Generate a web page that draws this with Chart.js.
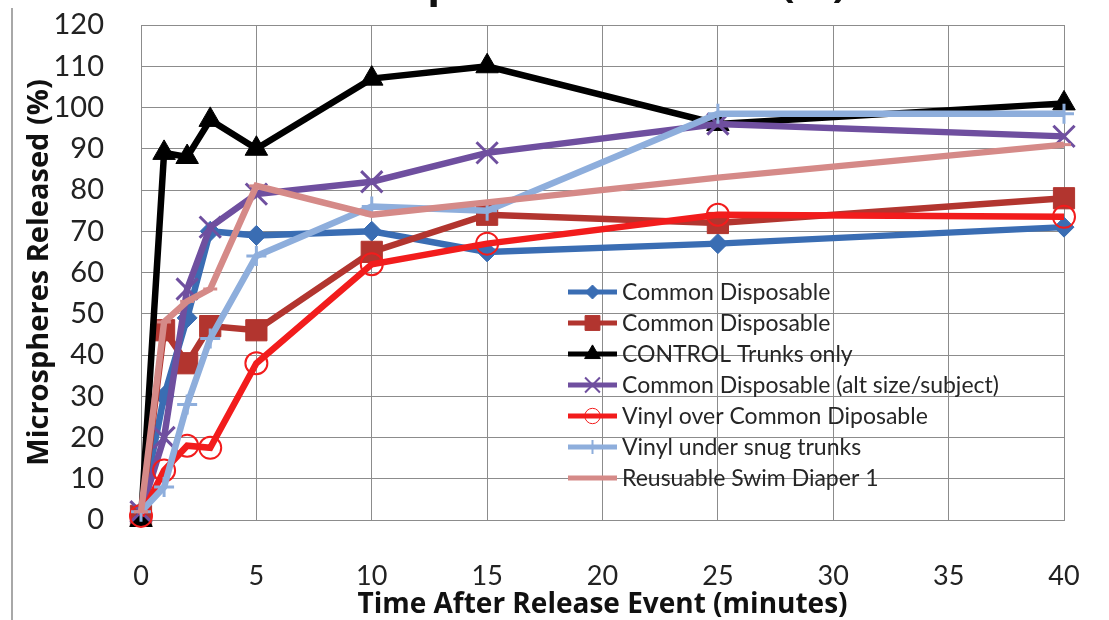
<!DOCTYPE html>
<html>
<head>
<meta charset="utf-8">
<script src="https://cdn.jsdelivr.net/npm/chart.js@4.4.1/dist/chart.umd.min.js"></script>
<style>
  html, body { margin: 0; padding: 0; background: #fff; overflow: hidden; }
  #wrap { position: relative; width: 1109px; height: 620px; overflow: hidden; }
  #chart { position: absolute; left: 0; top: 0; }
  #edge { position: absolute; left: 11px; top: 8px; bottom: 0; border-left: 2px solid #a8a8a8; }
</style>
</head>
<body>
<div id="wrap">
  <canvas id="chart" width="1109" height="620"></canvas>
  <div id="edge"></div>
</div>
<script>
// time points (minutes)
const times = [0, 1, 2, 3, 5, 10, 15, 25, 40];

const seriesNames = [
  "Common Disposable",
  "Common Disposable",
  "CONTROL Trunks only",
  "Common Disposable (alt size/subject)",
  "Vinyl over Common Diposable",
  "Vinyl under snug trunks",
  "Reusuable Swim Diaper 1"
];

// % microspheres released
const commonA    = [2, 30, 49, 70, 69, 70, 65, 67, 71];
const commonB    = [1, 46, 38, 47, 46, 65, 74, 72, 78];
const control    = [0, 89, 88, 97, 90, 107, 110, 96, 101];
const altSize    = [2, 20, 56, 71, 79, 82, 89, 96, 93];
const vinylOver  = [1, 12, 18, 17.5, 38, 62, 67, 74, 73.5];
const vinylUnder = [2, 8, 28, 44, 64, 76, 75, 98.5, 98.5];
const reusable   = [2, 48, 53, 56, 81, 74, 77, 83, 91];

const xTicks = [0, 5, 10, 15, 20, 25, 30, 35, 40];
const yTicks = [0, 10, 20, 30, 40, 50, 60, 70, 80, 90, 100, 110, 120];

const chartTitle = "Microspheres Released (%)";

const colors = ["#3a6db3", "#b2352f", "#000000", "#6f4f9f", "#f21c1c", "#8eaedc", "#d58a88"];
const styles = [
  { pointStyle: "rectRot", radius: 10, bw: 1, fill: true },
  { pointStyle: "rect", radius: 15, bw: 1, fill: true },
  { pointStyle: "triangle", radius: 13, bw: 1, fill: true },
  { pointStyle: "crossRot", radius: 15, bw: 3, fill: false },
  { pointStyle: "circle", radius: 11, bw: 2, fill: false },
  { pointStyle: "cross", radius: 10, bw: 3, fill: false },
  { pointStyle: "line", radius: 7, bw: 3, fill: false }
];

const allValues = [commonA, commonB, control, altSize, vinylOver, vinylUnder, reusable];

const datasets = allValues.map((vals, i) => ({
  label: seriesNames[i],
  data: vals.map((v, j) => ({ x: times[j], y: v })),
  borderColor: colors[i],
  backgroundColor: colors[i],
  borderWidth: 6.5,
  tension: 0,
  pointStyle: styles[i].pointStyle,
  pointRadius: styles[i].radius,
  pointBorderWidth: styles[i].bw,
  pointBackgroundColor: styles[i].fill ? colors[i] : "rgba(0,0,0,0)",
  pointBorderColor: colors[i],
  order: allValues.length - i,
  clip: false
}));

const FONT = "Lato, 'Open Sans', sans-serif";
const BOLD_FONT = "'Open Sans', Lato, sans-serif";

// the chart title sits mostly above the picture's top edge, only descenders show
const cutTitle = {
  id: "cutTitle",
  afterDraw(chart) {
    const ctx = chart.ctx;
    ctx.save();
    ctx.fillStyle = "#111";
    ctx.font = "bold 42px " + BOLD_FONT;
    ctx.textAlign = "center";
    ctx.textBaseline = "alphabetic";
    ctx.fillText(chartTitle, 567, -3);
    ctx.restore();
  }
};

// legend drawn inside the plot, like the original
const legendInPlot = {
  id: "legendInPlot",
  afterDraw(chart) {
    const ctx = chart.ctx;
    const x0 = 568, x1 = 617, tx = 622;
    const y0 = 292, dy = 31;
    ctx.save();
    chart.data.datasets.forEach((ds, i) => {
      const y = y0 + i * dy;
      ctx.strokeStyle = ds.borderColor;
      ctx.lineWidth = 5;
      ctx.beginPath();
      ctx.moveTo(x0, y);
      ctx.lineTo(x1, y);
      ctx.stroke();
      ctx.fillStyle = ds.pointBackgroundColor;
      ctx.strokeStyle = ds.pointBorderColor;
      ctx.lineWidth = Math.max(1, ds.pointBorderWidth - 1);
      Chart.helpers.drawPoint(ctx, {
        pointStyle: ds.pointStyle,
        radius: ds.pointRadius * 0.7,
        rotation: 0,
        borderWidth: ds.pointBorderWidth
      }, (x0 + x1) / 2, y);
      ctx.fillStyle = "#262626";
      ctx.font = "23px " + FONT;
      ctx.textBaseline = "middle";
      ctx.textAlign = "left";
      ctx.fillText(ds.label, tx, y + 1);
    });
    ctx.restore();
  }
};

new Chart(document.getElementById("chart"), {
  type: "line",
  data: { datasets: datasets },
  options: {
    responsive: false,
    animation: false,
    devicePixelRatio: 1,
    layout: { padding: { top: 25, left: 0, right: 45, bottom: 0 } },
    plugins: {
      legend: { display: false },
      tooltip: { enabled: false },
      title: { display: false }
    },
    scales: {
      x: {
        type: "linear",
        min: 0,
        max: 40,
        afterBuildTicks: (scale) => { scale.ticks = xTicks.map((v) => ({ value: v })); },
        afterFit: (scale) => { scale.height = 100; },
        grid: { color: "#8c8c8c", lineWidth: 1, drawTicks: true, tickLength: 40, tickColor: "rgba(0,0,0,0)" },
        border: { color: "#8c8c8c", width: 1 },
        ticks: { color: "#222", padding: 0, font: { family: FONT, size: 27 } },
        title: {
          display: true,
          text: "Time After Release Event (minutes)",
          color: "#111",
          font: { family: BOLD_FONT, size: 28, weight: "bold", lineHeight: 1 },
          padding: { top: 0, bottom: 1 }
        }
      },
      y: {
        min: 0,
        max: 120,
        afterBuildTicks: (scale) => { scale.ticks = yTicks.map((v) => ({ value: v })); },
        afterFit: (scale) => { scale.width = 141; },
        grid: { color: "#8c8c8c", lineWidth: 1, drawTicks: true, tickLength: 37, tickColor: "rgba(0,0,0,0)" },
        border: { color: "#8c8c8c", width: 1 },
        ticks: { color: "#222", padding: 0, font: { family: FONT, size: 29 } },
        title: {
          display: true,
          text: "Microspheres Released (%)",
          color: "#111",
          font: { family: BOLD_FONT, size: 29, weight: "bold", lineHeight: 1 },
          padding: { top: 25, bottom: 0 }
        }
      }
    }
  },
  plugins: [legendInPlot, cutTitle]
});
</script>
</body>
</html>
